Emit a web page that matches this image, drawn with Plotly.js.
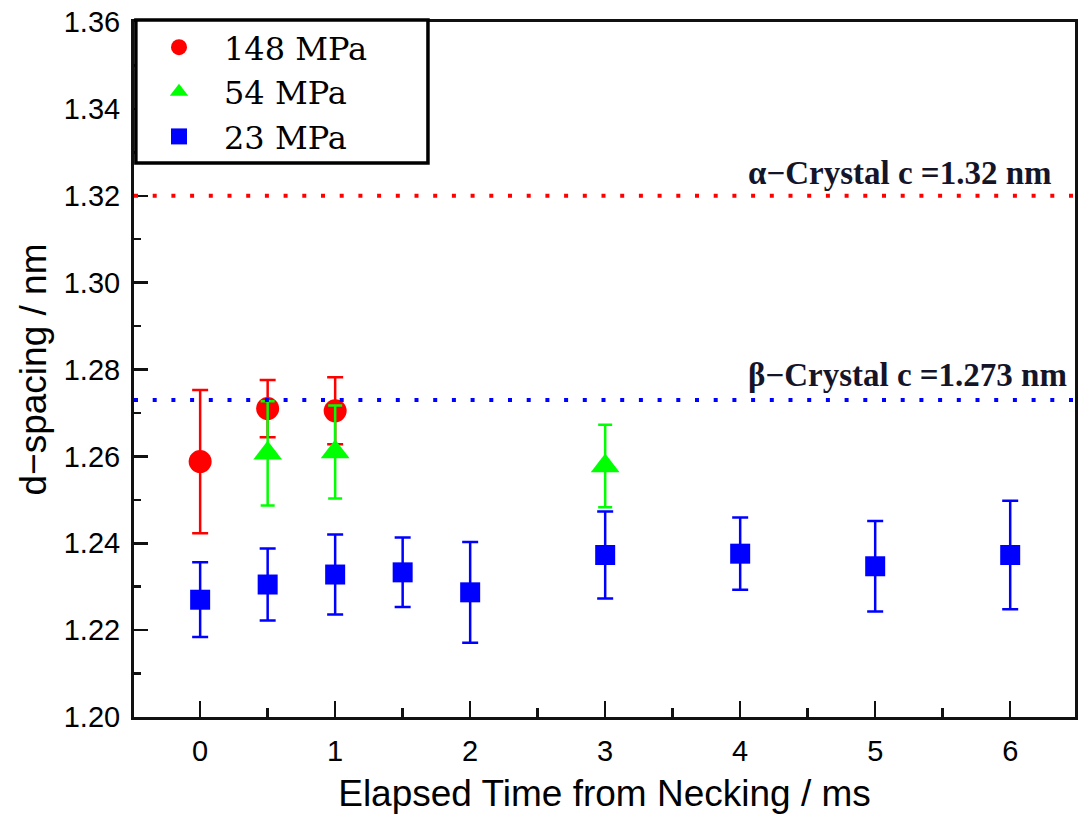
<!DOCTYPE html>
<html>
<head>
<meta charset="utf-8">
<script src="https://cdn.plot.ly/plotly-3.0.1.min.js"></script>
<style>
  html, body { margin: 0; padding: 0; background: #fff; }
  #chart { width: 1079px; height: 826px; }
</style>
</head>
<body>
<div id="chart"></div>
<script>
// Elapsed time after necking (ms) and measured d-spacing (nm) with error bars
const time148 = [0, 0.5, 1];
const d148 = [1.2588, 1.2710, 1.2705];
const err148 = [0.0165, 0.0066, 0.0077];

const time54 = [0.5, 1, 3];
const d54 = [1.2607, 1.2610, 1.2578];
const err54 = [0.0120, 0.0107, 0.0095];

const time23 = [0, 0.5, 1, 1.5, 2, 3, 4, 5, 6];
const d23 = [1.2270, 1.2305, 1.2328, 1.2333, 1.2287, 1.2373, 1.2376, 1.2347, 1.2373];
const err23 = [0.0086, 0.0083, 0.0092, 0.0080, 0.0116, 0.0100, 0.0083, 0.0104, 0.0125];

// Reference lattice constants
const alphaC = 1.32;
const betaC = 1.273;
const alphaLabel = 'α−Crystal c =1.32 nm';
const betaLabel = 'β−Crystal c =1.273 nm';

const seriesNames = ['148 MPa', '54 MPa', '23 MPa'];

const RED = '#ff0000', GREEN = '#00ff00', BLUE = '#0000ff';

function series(x, y, e, name, color, symbol, size, capw) {
  return {
    type: 'scatter', mode: 'markers', name: name,
    x: x, y: y,
    error_y: { type: 'data', array: e, visible: true, color: color, thickness: 2.5, width: capw },
    marker: { color: color, symbol: symbol, size: size, line: { width: 0 } }
  };
}

const traces = [
  series(time148, d148, err148, seriesNames[0], RED, 'circle', 23, 8),
  series(time54, d54, err54, seriesNames[1], GREEN, 'triangle-up', 25, 7),
  series(time23, d23, err23, seriesNames[2], BLUE, 'square', 20, 8)
];

const axisFont = { family: 'Liberation Sans, Arial, sans-serif', size: 29, color: '#000' };
const titleFont = { family: 'Liberation Sans, Arial, sans-serif', size: 37, color: '#000' };
const labelFont = { family: 'Liberation Serif, Times New Roman, serif', size: 33, color: '#15152a' };

const layout = {
  width: 1079, height: 826,
  margin: { l: 134, r: 4, t: 22, b: 109 },
  paper_bgcolor: '#fff', plot_bgcolor: '#fff',
  showlegend: true,
  legend: {
    x: 0, y: 1.003, xanchor: 'left', yanchor: 'top',
    bgcolor: 'rgba(0,0,0,0)', borderwidth: 0,
    font: { family: 'DejaVu Serif, serif', size: 32, color: '#000' },
    itemwidth: 80, tracegroupgap: 0
  },
  xaxis: {
    range: [-0.49, 6.48],
    tickmode: 'linear', tick0: 0, dtick: 1,
    ticks: 'inside', ticklen: 16, tickwidth: 2.5, tickcolor: '#111',
    minor: { dtick: 0.5, ticks: 'inside', ticklen: 9, tickwidth: 2.5, tickcolor: '#111' },
    showgrid: false, zeroline: false,
    showline: true, linecolor: '#111', linewidth: 3, mirror: true,
    tickfont: axisFont, ticklabelstandoff: 6,
    title: { text: 'Elapsed Time from Necking / ms', font: titleFont, standoff: 15 }
  },
  yaxis: {
    range: [1.20, 1.36],
    tickmode: 'linear', tick0: 1.20, dtick: 0.02, tickformat: '.2f',
    ticks: 'inside', ticklen: 14, tickwidth: 2.5, tickcolor: '#111',
    minor: { dtick: 0.01, ticks: 'inside', ticklen: 7, tickwidth: 2.5, tickcolor: '#111' },
    showgrid: false, zeroline: false,
    showline: true, linecolor: '#111', linewidth: 3, mirror: true,
    tickfont: axisFont, ticklabelstandoff: 5,
    title: { text: 'd−spacing / nm', font: titleFont, standoff: 6 }
  },
  shapes: [
    { type: 'line', xref: 'paper', x0: 0, x1: 1, yref: 'y', y0: alphaC, y1: alphaC,
      line: { color: RED, width: 4, dash: '4px,14.7px' } },
    { type: 'line', xref: 'paper', x0: 0, x1: 1, yref: 'y', y0: betaC, y1: betaC,
      line: { color: BLUE, width: 4, dash: '4px,14.7px' } },
    // legend frame
    { type: 'rect', xref: 'paper', yref: 'paper', layer: 'above',
      x0: 0.002, x1: 0.3124, y0: 0.797, y1: 1.0029,
      fillcolor: '#fff', line: { color: '#000', width: 3.5 } }
  ],
  annotations: [
    { xref: 'paper', yref: 'y', x: 0.65, y: 1.3252, xanchor: 'left', yanchor: 'middle',
      text: '<b>' + alphaLabel + '</b>', showarrow: false, font: labelFont },
    { xref: 'paper', yref: 'y', x: 0.65, y: 1.2787, xanchor: 'left', yanchor: 'middle',
      text: '<b>' + betaLabel + '</b>', showarrow: false, font: labelFont }
  ]
};

Plotly.newPlot('chart', traces, layout, { displayModeBar: false, staticPlot: true });
</script>
</body>
</html>
